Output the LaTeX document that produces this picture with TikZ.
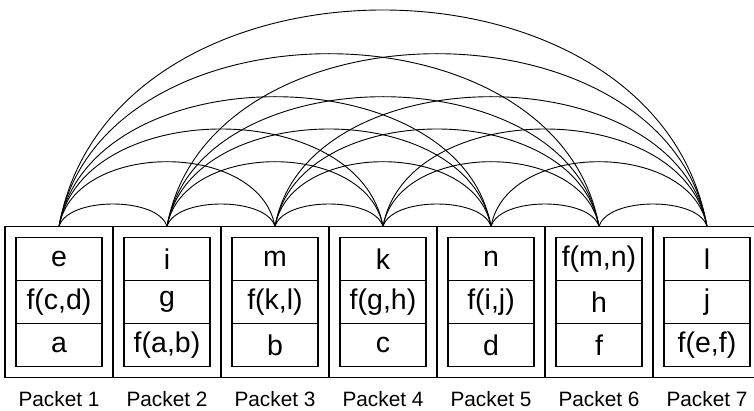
\documentclass[tikz,border=0pt]{standalone}
\usepackage{fontspec}
\setmainfont{Liberation Sans}
\begin{document}
\begin{tikzpicture}[x=1pt,y=1pt,
  packetbox/.style={draw, line width=1.4pt, rectangle, outer sep=0pt,
    minimum width=108pt, minimum height=151pt, inner sep=0pt},
  cellbox/.style={draw, line width=1.2pt, rectangle, outer sep=0pt,
    minimum width=86pt, minimum height=43pt, inner sep=0pt,
    font=\fontsize{28.5}{30}\selectfont},
  caption/.style={anchor=base, inner sep=0pt, font=\fontsize{20.8}{22}\selectfont},
  link/.style={line width=0.9pt}]
\useasboundingbox (0,0) rectangle (754,410);

% one packet: outer frame, three stacked cells (top to bottom) and its caption
\foreach \i/\ta/\tb/\tc in {1/e/{f(c,d)}/a, 2/i/g/{f(a,b)}, 3/m/{f(k,l)}/b,
    4/k/{f(g,h)}/c, 5/n/{f(i,j)}/d, 6/{f(m,n)}/h/f, 7/l/j/{f(e,f)}} {
  \pgfmathsetmacro\cx{59+108*(\i-1)}
  \node[packetbox] (p\i) at (\cx,107.8) {};
  \node[cellbox] (c\i a) at (\cx,150.8) {\ta};
  \node[cellbox] (c\i b) at (\cx,107.8) {\tb};
  \node[cellbox] (c\i c) at (\cx,64.8) {\tc};
  \node[caption] (l\i) at (\cx,3.5) {Packet \i};
}

% every packet is linked to every other one by an arc over the row
\foreach \i in {1,...,6} {
  \pgfmathtruncatemacro\s{\i+1}
  \foreach \j in {\s,...,7} {
    \pgfmathtruncatemacro\k{\j-\i}
    \pgfmathsetmacro\h{{22.7,65,97.7,130,173,216.7}[\k-1]}
    \pgfmathsetmacro\dy{4*\h/3}
    \pgfmathsetmacro\dx{\dy*(\k==1 ? 0.2679 : 0.1763)}
    \draw[link] (p\i.north) .. controls +(\dx,\dy) and +(-\dx,\dy) .. (p\j.north);
  }
}
\end{tikzpicture}
\end{document}
